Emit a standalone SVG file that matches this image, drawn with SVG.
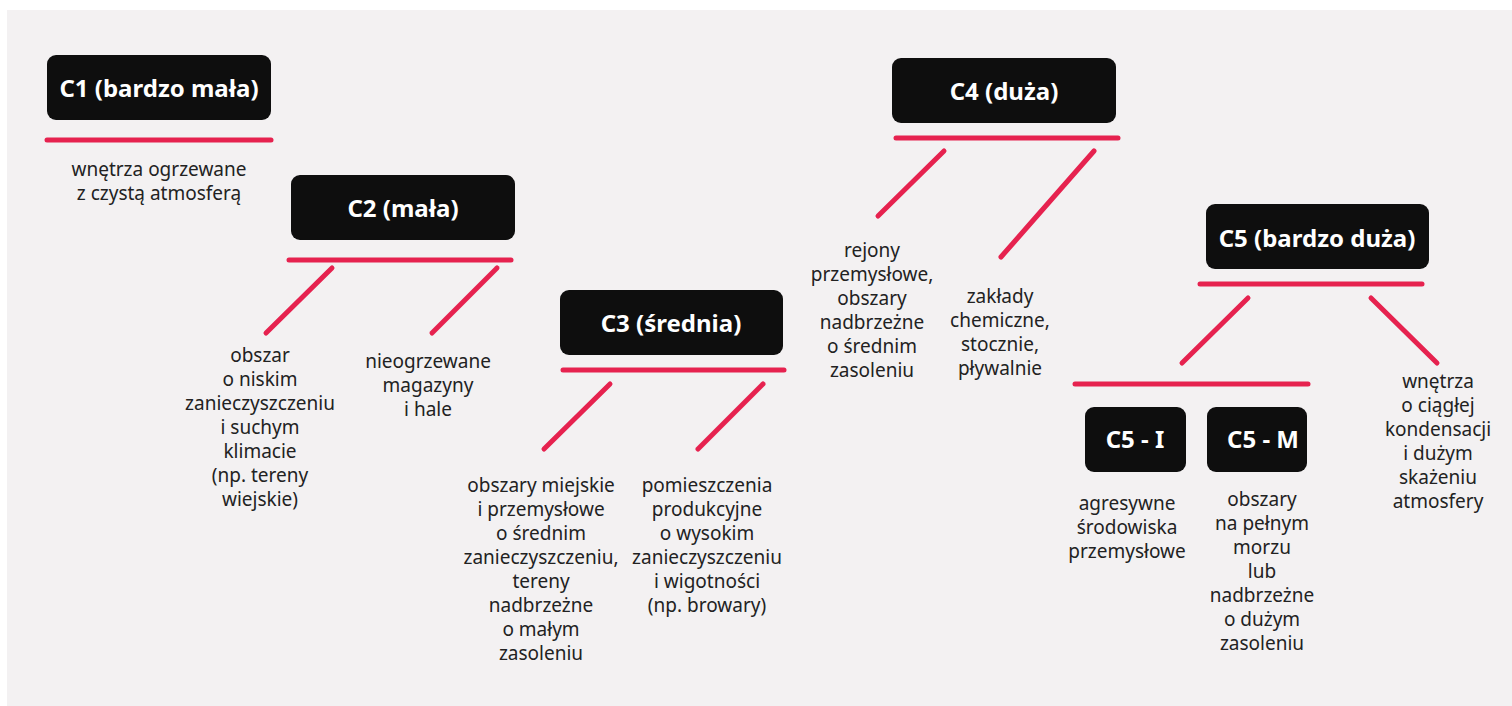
<svg xmlns="http://www.w3.org/2000/svg" width="1512" height="706" viewBox="0 0 1512 706">
<style>
.bg{fill:#f3f1f2}
.box{fill:#0e0e0e}
.title{font-family:"Noto Sans","Liberation Sans",sans-serif;font-weight:bold;font-size:24px;fill:#ffffff;text-anchor:middle}
.desc{font-family:"Noto Sans","Liberation Sans",sans-serif;font-size:19px;fill:#222222;text-anchor:middle}
.ln{stroke:#e6224f;stroke-width:5;stroke-linecap:round;fill:none}
</style>
<rect x="0" y="0" width="1512" height="706" fill="#ffffff"/>
<rect class="bg" x="7" y="10" width="1505" height="696"/>
<g id="connectors">
<line class="ln" x1="47" y1="140" x2="271" y2="140"/>
<line class="ln" x1="289" y1="260" x2="511" y2="260"/>
<line class="ln" x1="332" y1="268" x2="266" y2="333"/>
<line class="ln" x1="497" y1="268" x2="432" y2="333"/>
<line class="ln" x1="563" y1="370" x2="784" y2="370"/>
<line class="ln" x1="610" y1="384" x2="544" y2="449"/>
<line class="ln" x1="763" y1="384" x2="698" y2="449"/>
<line class="ln" x1="896" y1="138" x2="1118" y2="138"/>
<line class="ln" x1="944" y1="151" x2="878" y2="216"/>
<line class="ln" x1="1094" y1="151" x2="1001" y2="257"/>
<line class="ln" x1="1200" y1="284" x2="1422" y2="284"/>
<line class="ln" x1="1248" y1="298" x2="1182" y2="363"/>
<line class="ln" x1="1371" y1="298" x2="1437" y2="363"/>
<line class="ln" x1="1075" y1="384" x2="1308" y2="384"/>
</g>
<g id="c1">
<rect class="box" x="47" y="55" width="224" height="65" rx="9"/>
<text class="title" x="159" y="97">C1 (bardzo mała)</text>
<text class="desc" x="159" y="176">wnętrza ogrzewane</text>
<text class="desc" x="159" y="200">z czystą atmosferą</text>
</g>
<g id="c2">
<rect class="box" x="291" y="175" width="224" height="65" rx="9"/>
<text class="title" x="403" y="217">C2 (mała)</text>
</g>
<g id="c2a">
<text class="desc" x="260" y="362">obszar</text>
<text class="desc" x="260" y="386">o niskim</text>
<text class="desc" x="260" y="410">zanieczyszczeniu</text>
<text class="desc" x="260" y="434">i suchym</text>
<text class="desc" x="260" y="458">klimacie</text>
<text class="desc" x="260" y="482">(np. tereny</text>
<text class="desc" x="260" y="506">wiejskie)</text>
</g>
<g id="c2b">
<text class="desc" x="428" y="368">nieogrzewane</text>
<text class="desc" x="428" y="392">magazyny</text>
<text class="desc" x="428" y="416">i hale</text>
</g>
<g id="c3">
<rect class="box" x="560" y="290" width="223" height="65" rx="9"/>
<text class="title" x="671" y="332">C3 (średnia)</text>
</g>
<g id="c3a">
<text class="desc" x="541" y="492">obszary miejskie</text>
<text class="desc" x="541" y="516">i przemysłowe</text>
<text class="desc" x="541" y="540">o średnim</text>
<text class="desc" x="541" y="564">zanieczyszczeniu,</text>
<text class="desc" x="541" y="588">tereny</text>
<text class="desc" x="541" y="612">nadbrzeżne</text>
<text class="desc" x="541" y="636">o małym</text>
<text class="desc" x="541" y="660">zasoleniu</text>
</g>
<g id="c3b">
<text class="desc" x="707" y="492">pomieszczenia</text>
<text class="desc" x="707" y="516">produkcyjne</text>
<text class="desc" x="707" y="540">o wysokim</text>
<text class="desc" x="707" y="564">zanieczyszczeniu</text>
<text class="desc" x="707" y="588">i wigotności</text>
<text class="desc" x="707" y="612">(np. browary)</text>
</g>
<g id="c4">
<rect class="box" x="892" y="58" width="224" height="65" rx="9"/>
<text class="title" x="1004" y="100">C4 (duża)</text>
</g>
<g id="c4a">
<text class="desc" x="872" y="257">rejony</text>
<text class="desc" x="872" y="281">przemysłowe,</text>
<text class="desc" x="872" y="305">obszary</text>
<text class="desc" x="872" y="329">nadbrzeżne</text>
<text class="desc" x="872" y="353">o średnim</text>
<text class="desc" x="872" y="377">zasoleniu</text>
</g>
<g id="c4b">
<text class="desc" x="1000" y="303">zakłady</text>
<text class="desc" x="1000" y="327">chemiczne,</text>
<text class="desc" x="1000" y="351">stocznie,</text>
<text class="desc" x="1000" y="375">pływalnie</text>
</g>
<g id="c5">
<rect class="box" x="1206" y="204" width="223" height="65" rx="9"/>
<text class="title" x="1317" y="247">C5 (bardzo duża)</text>
</g>
<g id="c5i">
<rect class="box" x="1085" y="407" width="101" height="65" rx="9"/>
<text class="title" x="1135" y="448">C5 - I</text>
<text class="desc" x="1127" y="510">agresywne</text>
<text class="desc" x="1127" y="534">środowiska</text>
<text class="desc" x="1127" y="558">przemysłowe</text>
</g>
<g id="c5m">
<rect class="box" x="1207" y="407" width="100" height="65" rx="9"/>
<text class="title" x="1263" y="448">C5 - M</text>
<text class="desc" x="1262" y="506">obszary</text>
<text class="desc" x="1262" y="530">na pełnym</text>
<text class="desc" x="1262" y="554">morzu</text>
<text class="desc" x="1262" y="578">lub</text>
<text class="desc" x="1262" y="602">nadbrzeżne</text>
<text class="desc" x="1262" y="626">o dużym</text>
<text class="desc" x="1262" y="650">zasoleniu</text>
</g>
<g id="c5c">
<text class="desc" x="1438" y="388">wnętrza</text>
<text class="desc" x="1438" y="412">o ciągłej</text>
<text class="desc" x="1438" y="436">kondensacji</text>
<text class="desc" x="1438" y="460">i dużym</text>
<text class="desc" x="1438" y="484">skażeniu</text>
<text class="desc" x="1438" y="508">atmosfery</text>
</g>
</svg>
